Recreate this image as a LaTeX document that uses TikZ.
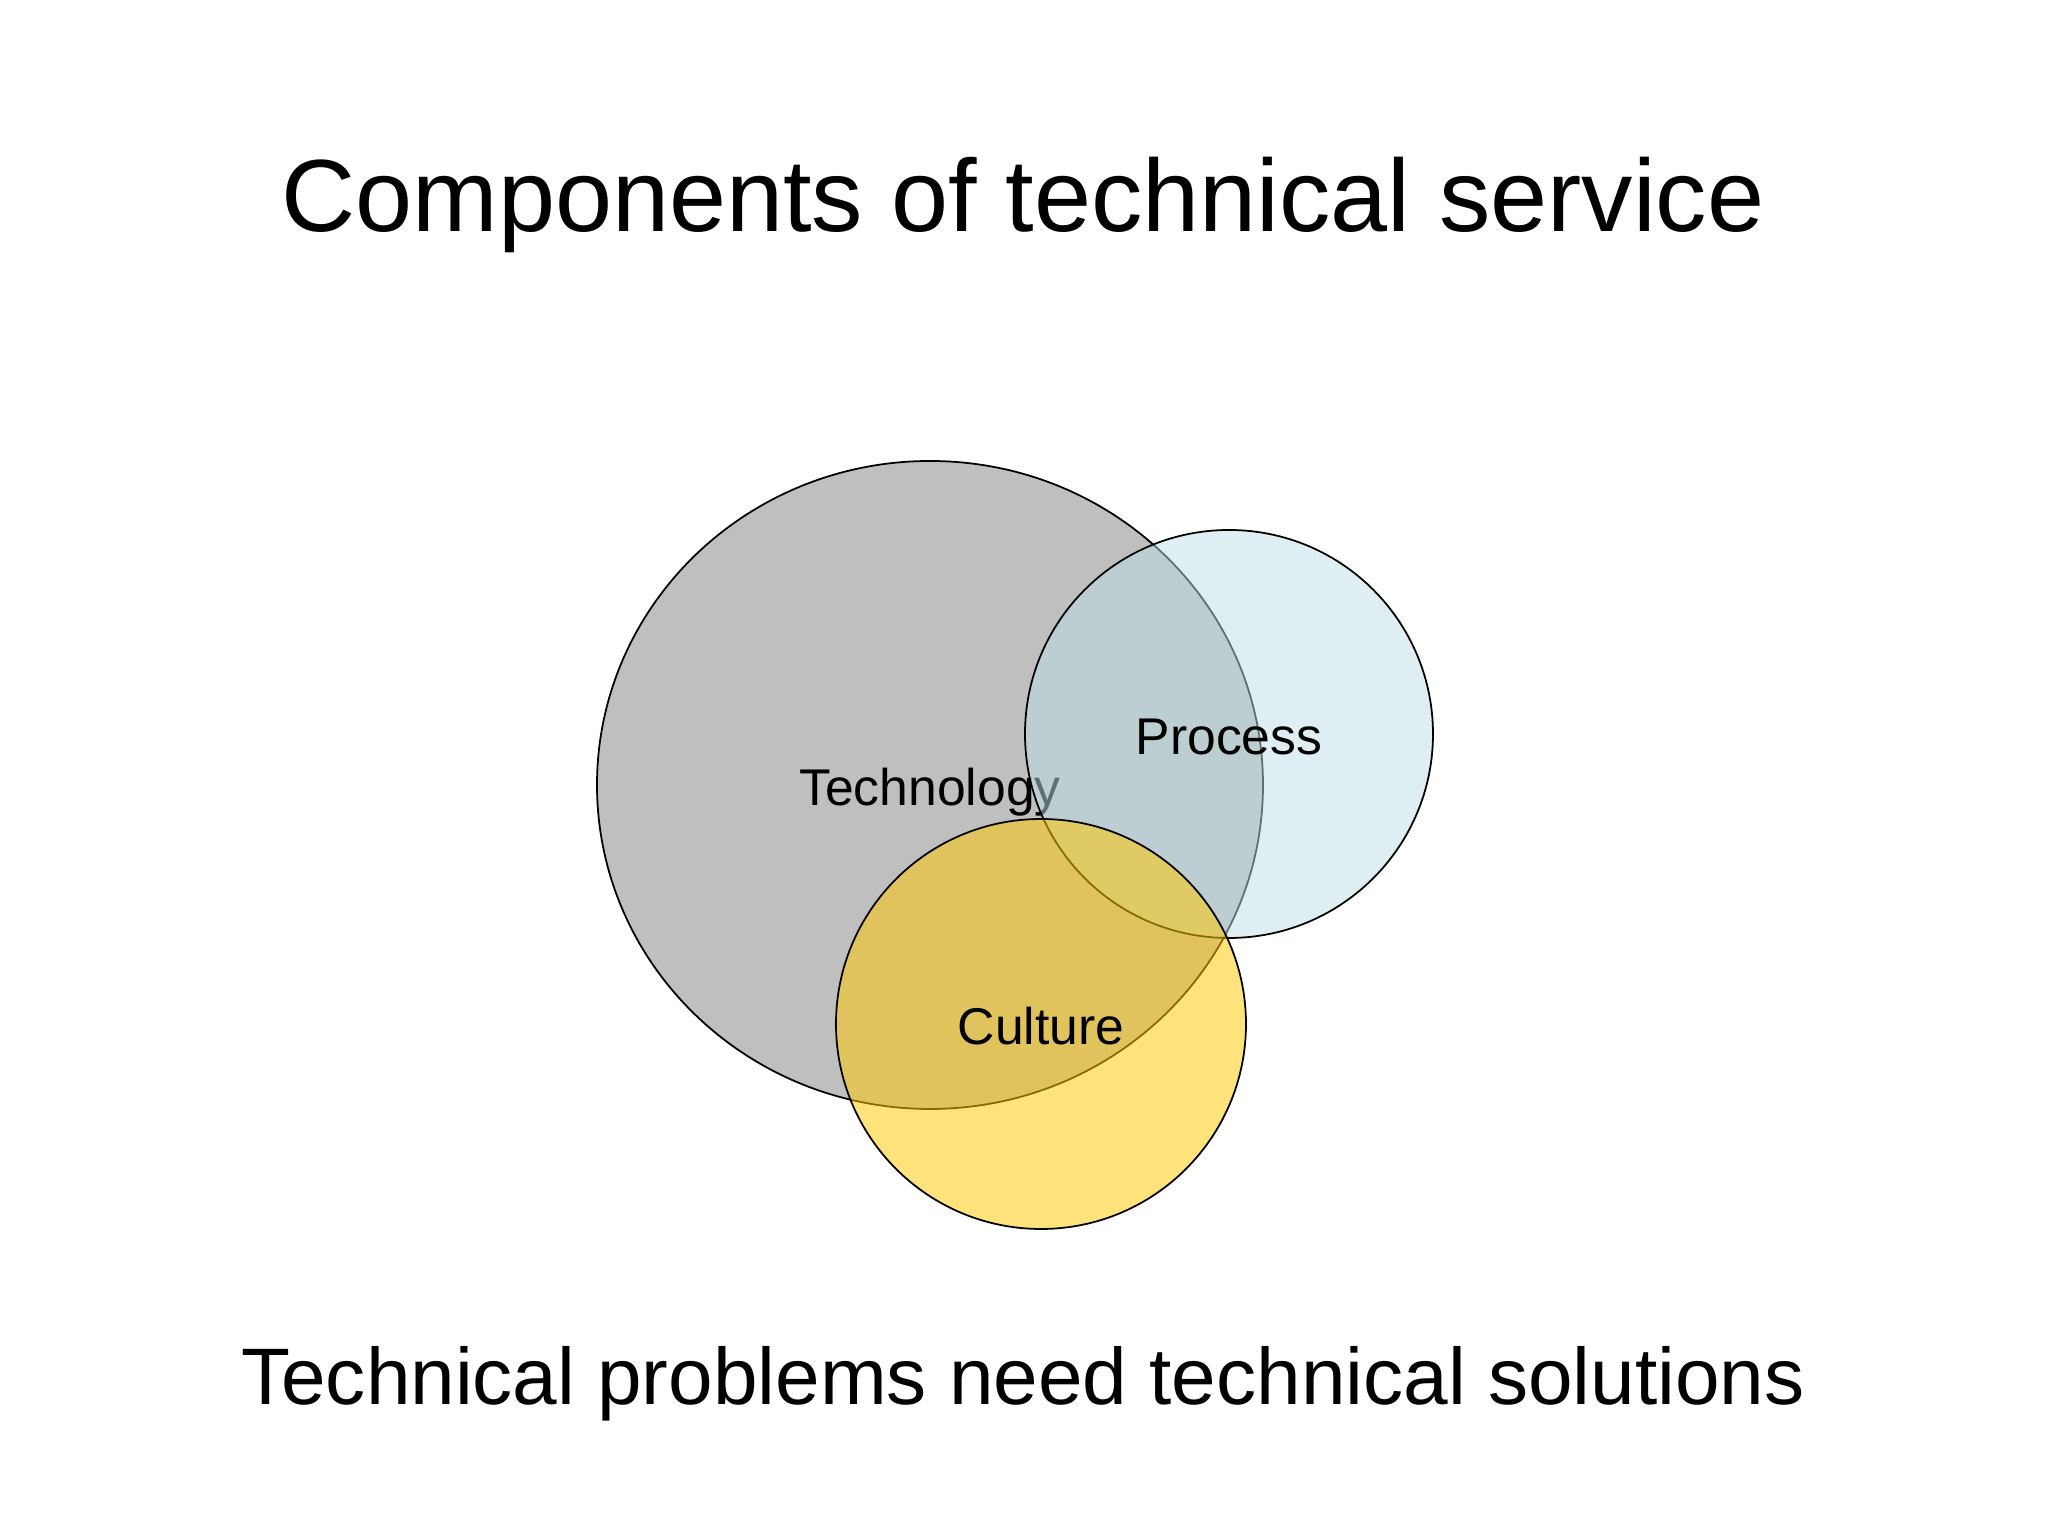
\documentclass[tikz,border=0pt]{standalone}
\usepackage{fontspec}
\setmainfont{Liberation Sans}
\definecolor{techgrey}{RGB}{191,191,191}
\definecolor{procblue}{RGB}{189,221,229}
\definecolor{cultgold}{RGB}{254,200,4}
\tikzset{
  venn/.style={line width=0.5pt},
  lbl/.style={anchor=base,inner sep=0pt,font=\fontsize{14.7}{17}\selectfont}
}
\begin{document}
\begin{tikzpicture}
\useasboundingbox (0,0) rectangle (20.48,15.36);
\node[anchor=base,inner sep=0pt,font=\fontsize{29.2}{34}\selectfont] (title) at (10.23,13.04) {Components of technical service};
% the three sets
\draw [venn, fill=techgrey] (9.30,7.51) ellipse (3.33 and 3.24);
\node[lbl] (tech) at (9.30,7.30) {Technology};
\draw [venn, fill=procblue, fill opacity=0.5] (12.29,8.02) circle (2.04);
\node[lbl] (proc) at (12.29,7.81) {Process};
\draw [venn, fill=cultgold, fill opacity=0.53] (10.41,5.12) circle (2.05);
\node[lbl] (cult) at (10.41,4.91) {Culture};
\node[anchor=base,inner sep=0pt,font=\fontsize{22.8}{27}\selectfont] (motto) at (10.23,1.31) {Technical problems need technical solutions};
\end{tikzpicture}
\end{document}
